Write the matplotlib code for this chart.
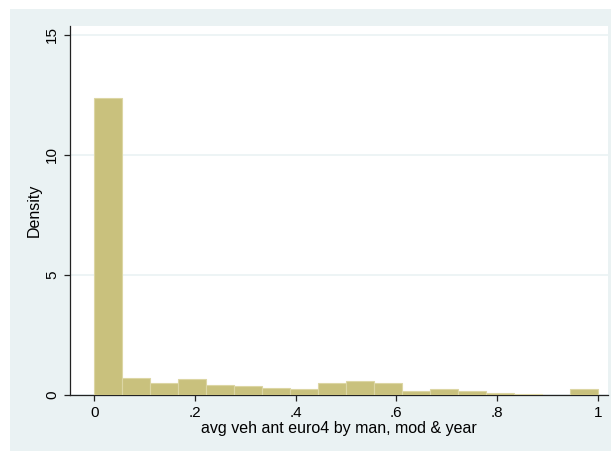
import numpy as np
import matplotlib
matplotlib.use("agg")
import matplotlib.pyplot as plt
from matplotlib.patches import Rectangle

# histogram of avg veh ant euro4 (18 bins on [0,1])
density = [12.35, 0.70, 0.49, 0.63, 0.39, 0.35, 0.28, 0.21, 0.49,
           0.56, 0.50, 0.14, 0.24, 0.14, 0.06, 0.04, 0.00, 0.24]
bin_lo, bin_hi = 0.0, 1.0
xticks = [0, 0.2, 0.4, 0.6, 0.8, 1]
xticklabels = ["0", ".2", ".4", ".6", ".8", "1"]
yticks = [0, 5, 10, 15]
xlabel = "avg veh ant euro4 by man, mod & year"
ylabel = "Density"

plt.rcParams["font.family"] = ["Liberation Sans", "DejaVu Sans"]

W, H = 611, 451
fig = plt.figure(figsize=(W / 100, H / 100), dpi=100)
fig.patch.set_facecolor("white")
# stata-like outer region
fig.patches.append(Rectangle((10 / W, 0), 1 - 10 / W, 1 - 9 / H,
                             transform=fig.transFigure, facecolor="#eaf2f3",
                             edgecolor="none", zorder=-5))

ax = fig.add_axes([70 / W, 1 - 394.5 / H, (608 - 70) / W, (394.5 - 26) / H])
ax.set_facecolor("white")

edges = np.linspace(bin_lo, bin_hi, len(density) + 1)
ax.bar(edges[:-1], density, width=np.diff(edges), align="edge",
       color="#c9c17d", edgecolor="#dcd6a4", linewidth=0.8, zorder=3)

ax.set_xlim(-0.048, 1.0205)
ax.set_ylim(0, 15.37)
ax.set_xticks(xticks)
ax.set_xticklabels(xticklabels)
ax.set_yticks(yticks)
ax.set_yticklabels([str(v) for v in yticks], rotation=90, va="center")

ax.yaxis.grid(True, color="#eaf2f3", linewidth=1.2, zorder=0)
ax.set_axisbelow(True)

for s in ["top", "right"]:
    ax.spines[s].set_visible(False)
for s in ["left", "bottom"]:
    ax.spines[s].set_color("#222222")
    ax.spines[s].set_linewidth(0.9)

ax.tick_params(axis="both", direction="out", length=4.5, width=0.9,
               color="#222222", labelsize=11, labelcolor="black", pad=3.5)

ax.set_xlabel(xlabel, fontsize=11.5, labelpad=1)
ax.set_ylabel(ylabel, fontsize=11.5, labelpad=2)

fig.savefig("out.png", dpi=100)
